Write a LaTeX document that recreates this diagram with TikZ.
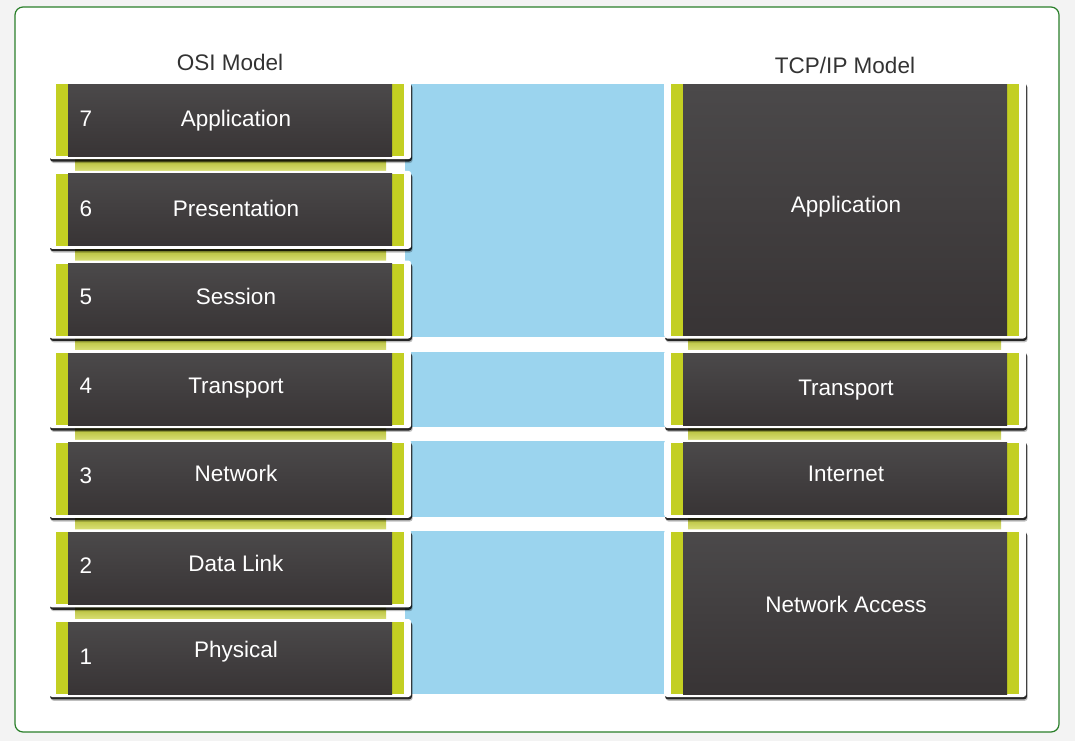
\documentclass[tikz,border=0pt]{standalone}
\usepackage{fontspec}
\setmainfont{Liberation Sans}
\usetikzlibrary{shadows}
\definecolor{pagegray}{HTML}{F3F3F3}
\definecolor{framegreen}{HTML}{2A7F2A}
\definecolor{lime}{HTML}{C3CF22}
\definecolor{limelight}{HTML}{DCE27A}
\definecolor{skyband}{HTML}{9BD4EE}
\definecolor{slatetop}{HTML}{4B494A}
\definecolor{slatebot}{HTML}{383435}
\definecolor{titlegray}{HTML}{333333}

\begin{document}
\begin{tikzpicture}[x=1pt, y=-1pt,
  layer/.style={rectangle, fill=white, rounded corners=3pt, inner sep=0pt, anchor=north west,
    minimum width=362pt, minimum height=#1,
    drop shadow={shadow xshift=1.5pt, shadow yshift=-3.8pt, fill=black, opacity=0.25},
    drop shadow={shadow xshift=0.8pt, shadow yshift=-2.4pt, fill=black, opacity=0.8},
    path picture={
      \fill[lime, sharp corners] ([xshift=7pt,yshift=3pt]path picture bounding box.south west) rectangle ([xshift=-7pt,yshift=-3pt]path picture bounding box.north east);
      \shade[top color=slatetop, bottom color=slatebot, sharp corners] ([xshift=19pt,yshift=3pt]path picture bounding box.south west) rectangle ([xshift=-19pt,yshift=-3pt]path picture bounding box.north east);}},
  layer/.default=78pt,
  layertext/.style={text=white, anchor=base, inner sep=0pt, font=\fontsize{22.5}{27}\selectfont},
  title/.style={text=titlegray, anchor=base, inner sep=0pt, font=\fontsize{22.5}{27}\selectfont},
  strip/.style={top color=lime!85!black, bottom color=limelight}]

% page and frame
\fill[pagegray] (0,0) rectangle (1075,741);
\draw[framegreen, fill=white, rounded corners=8pt, line width=1.2pt] (15,7) rectangle (1059,732);

% blue bands between the models
\fill[skyband] (405,84) rectangle (670,337);
\fill[skyband] (405,352) rectangle (670,427);
\fill[skyband] (405,441) rectangle (670,517);
\fill[skyband] (405,531) rectangle (670,694);

% strips between the layers
\foreach \y in {155,245,334,424,513,603}
  \shade[strip] (75,\y) rectangle (386,\y+17);
\foreach \y in {334,424,513}
  \shade[strip] (688,\y) rectangle (1001,\y+17);

\node[title] (osi-title) at (230,71) {OSI Model};
\node[title] (tcp-title) at (845,74) {TCP/IP Model};

% OSI layers
\foreach \n/\lbl/\top/\base/\nbase in {7/Application/81/127/127, 6/Presentation/170.6/216/216,
    5/Session/260.3/304/304, 4/Transport/349.9/393/393, 3/Network/439.6/481/483,
    2/Data Link/529.2/571.5/573, 1/Physical/618.8/657.5/664}{
  \node[layer] (osi\n) at (49,\top) {};
  \node[layertext] (osi\n-name) at (236,\base) {\lbl};
  \node[layertext] (osi\n-num) at (86,\nbase) {\n};
}

% TCP/IP layers
\node[layer=257.3pt] (tcp4) at (664,81) {};
\node[layer] (tcp3) at (664,349.9) {};
\node[layer] (tcp2) at (664,439.6) {};
\node[layer=167.6pt] (tcp1) at (664,529.2) {};
\node[layertext] (tcp4-name) at (846,212) {Application};
\node[layertext] (tcp3-name) at (846,395) {Transport};
\node[layertext] (tcp2-name) at (846,481) {Internet};
\node[layertext] (tcp1-name) at (846,612) {Network Access};
\end{tikzpicture}
\end{document}
